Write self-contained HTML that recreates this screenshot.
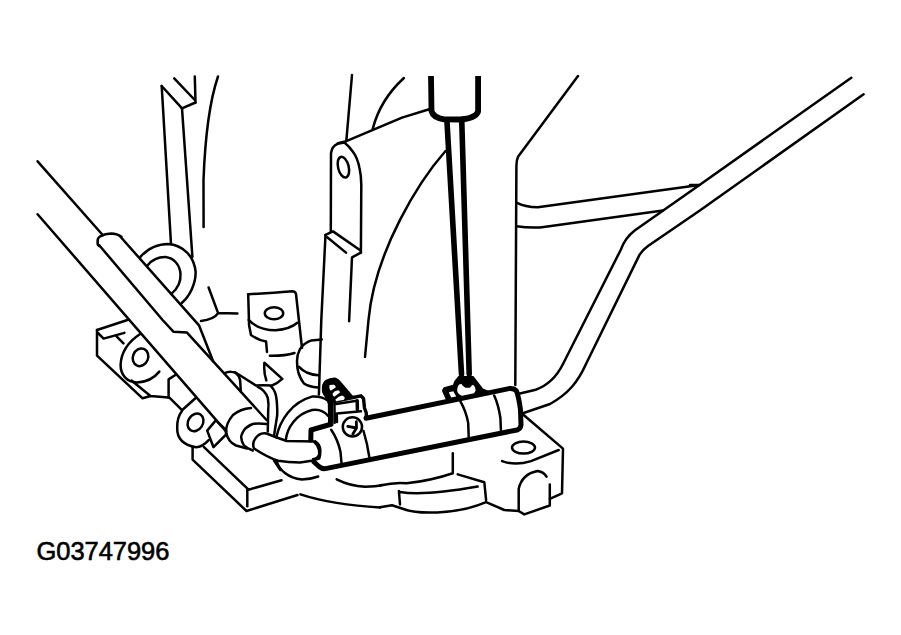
<!DOCTYPE html>
<html><head><meta charset="utf-8">
<style>
html,body{margin:0;padding:0;background:#fff;width:901px;height:635px;overflow:hidden}
svg{position:absolute;left:0;top:0}
.lbl{position:absolute;left:36.5px;top:536.8px;font-family:"Liberation Sans",sans-serif;font-size:25.5px;color:#000;letter-spacing:-0.05px;-webkit-text-stroke:0.6px #000}
</style></head><body>
<svg width="901" height="635" viewBox="0 0 901 635">
<g fill="none" stroke="#000" stroke-width="2.5" stroke-linecap="round" stroke-linejoin="round">
<!-- top-left post -->
<path d="M161.7,86 L171,244"/>
<path d="M161.7,86 L182,108.4 L195.5,102.5"/>
<path d="M182,108.4 L192.4,257"/>
<path d="M194.8,76.5 L195.5,102.5"/>
<path d="M174.2,78.4 L194.8,100"/>
<path d="M218,76.5 C210,100 205,140 203.5,180 L203.6,227"/>
<!-- left cable -->
<path d="M37.6,161.3 L102.7,235"/>
<path d="M37.6,214.2 L226,431.4"/>
<!-- boot -->
<path d="M120.7,237 L199,325.3 L213,361"/>
<path d="M99,245 L162.6,320 L173.6,331.8 L187,332.6 L266.5,420"/>
<path d="M121.5,236.8 Q117,233.6 111.3,233.5 Q105,233.7 100.2,236.3 Q97.6,238 97.6,241 L97.7,244.5 L99,246"/>
<!-- ring -->
<path d="M140.2,257.1 C148,248 156,244 168,243.9 C183,245 194,256 195.6,271.6 C196,283 190,296 181.7,303"/>
<path d="M147.7,265.3 C152,260 158,257 165.3,257.1 C174,258 180,265 180.5,274.1 C181,282 177,289 171.6,293.6"/>
<!-- Y shape -->
<path d="M208.6,287.5 L218.1,313.1 L237.4,313.5 M218.1,313.1 Q214,319.5 201,321"/>
<!-- flange left -->
<path d="M97,330 L128.2,319.7"/>
<path d="M97,330 L97,355.6 L142.6,398.3 L150.5,396 L168.6,397.6 M131.5,380.5 L150.5,396"/>
<path d="M98,333 L103.6,338.6 L124.4,332.9 M116.8,336.7 L123.5,343.3"/>
<path d="M140.5,333.8 C128,342 121,352 120.6,365 C120.5,375 127,382 137,382.5 C147,382 155,377 159.3,371.6"/>
<ellipse cx="140.5" cy="357.3" rx="7.6" ry="9" transform="rotate(22 140.5 357.3)"/>
<path d="M168.6,397.6 L168.6,379.4 L175.7,374.7 M169.4,397.6 L182,410.2 L195.4,398.3"/>
<!-- eye 2 -->
<path d="M182,411 C178,416 177,420 177.2,428 C177,438 183,445 196.1,447.2 C202,447 206,443 208.7,440.1"/>
<ellipse cx="195.5" cy="422.4" rx="7.4" ry="9.3" transform="rotate(32 195.5 422.4)"/>
<path d="M207.2,430.6 L215.8,420.4 L226,429.8 L226,434.6 L213.5,447.2 L207.2,430.6"/>
<!-- base block left -->
<path d="M192.6,447.2 L192.6,459.6 L246.5,511 L297.5,495"/>
<path d="M204,447.2 L248.5,489.7 L281.5,480.2"/>
<path d="M247.3,489.7 L247.3,506.2"/>
<path d="M300.4,494.4 Q333,505 380,507.4"/>
<path d="M336.7,479.3 Q350,486 365,486.8 Q376,486.5 382,485"/>
<path d="M276.5,460.5 C279,470 288,478 302,479.5 Q310,479.5 318.2,476.5"/>
<!-- mounting boss -->
<path d="M248.2,294.2 Q272,293 292,291.3 Q295.5,291.5 296,294 L302,348"/>
<path d="M248.2,294.4 L249.1,325.6 L251,335 Q258,340 266.1,341.6 L267,352"/>
<path d="M248.7,319.9 Q258,330 275.6,330.3 Q290,329 297.3,322.7"/>
<path d="M269.9,355.8 Q285,356 294.5,353"/>
<ellipse cx="274" cy="313.3" rx="9.2" ry="6"/>
<!-- upper bracket -->
<path d="M337.8,143.1 L346.3,141.2 L402,117.6 L430,109"/>
<path d="M352,75 L346.3,141.2"/>
<path d="M403.9,78 Q380,100 372.7,129"/>
<path d="M330.8,231.4 L331,153 Q332,146 337.6,143.8 L344.3,142.5 Q349,146 353.1,152 Q357.5,158 359.5,168 Q361.3,176 361.3,185 L360.9,252.6"/>
<ellipse cx="343.4" cy="167.2" rx="5.3" ry="10.6" transform="rotate(-14 343.4 167.2)"/>
<path d="M325.5,234.9 L333,231.4 L360.2,250.3 M327.2,237.3 L346,252.6 M360.9,252.6 L352,257.4 L349.1,321.3"/>
<path d="M325.5,234.9 L321.3,320 L318.9,394.5"/>
<path d="M445.5,151 C420,180 375,250 368.5,320 L365,357"/>
<!-- right casing -->
<path d="M578,76 L518.2,156.4 Q516.4,160 516.4,166 L515.3,385"/>
<path d="M516.5,202.6 Q525,207 537.8,207.3 L699.5,184.9 L690,185"/>
<path d="M516.5,226.2 Q528,228 540.1,227.4 L662.9,210.4"/>
<path d="M851.3,77.7 L699.5,184.9 L634.7,230.6 C629,235 624,241 620.8,249.7 L563,364 C557,376 549,385 535.7,389.7 L518.9,393.8"/>
<path d="M863.6,94.2 L699.5,210.8 L648,246 C644,249 641.5,251.5 639.6,254.6 L586,364 C578,382 568,394 550,404 L523.6,413"/>
<!-- base right -->
<path d="M522.8,414.3 L563,448.6 L562,493.3 L549.8,498.8"/>
<ellipse cx="523.5" cy="447.6" rx="11.5" ry="6"/>
<path d="M502.1,461.1 Q515,466 531,461.1 L558.7,450"/>
<path d="M518.7,511 L518.7,488.8 Q522,474 537.6,471 Q544,472 546.5,476.6 M549.8,484.4 L549.8,505.5 L524.3,514.4 L518.7,511"/>
<path d="M452.8,453.3 L452.8,473.3 Q430,481 406.6,483.3 Q395,482 380,485.5"/>
<path d="M457.7,474.4 L484.3,482.2 L486.1,500"/>
<path d="M398.9,491 L400,504.4 M400,492 Q424,496 477.7,486.6"/>
<path d="M380,507.3 L392,505.3 L402,508.5 C415,514 455,515.5 486.1,502.2 L504.3,510 L518.7,511"/>
<!-- cable bend into cylinder -->
<path d="M224.7,373.2 Q228,371.5 231.3,371.8 Q236,372 238.9,376.5 Q240.5,380 240.3,383 L240.8,391.2"/>
<path d="M235.1,372.3 L255.9,385.5 Q262,385 272,385.5 Q278,383 282.3,378.9 L264.4,362.8 Q263.5,372 266.3,380.3"/>
<path d="M257.8,386.9 Q265,390 267.8,398 Q269,405 268.2,410 L267.8,431.6"/>
<path d="M271,386.4 Q276,391 276.7,400.6 Q277.5,410 277.2,415.2 L274.1,435.3"/>
<path d="M251,408 Q240,409 233,415 Q226,423 226,432 Q228,442 236,445.5 L247,448.5"/>
<path d="M266.5,424 Q258,423 252.7,424 Q246,427 243.9,430.3 Q240.5,436 241.3,437.9 Q241.5,442 243.9,445.4 Q248,449 252.7,450.5"/>
<path d="M253.9,441 Q257,435 261.5,433.6 Q264,433 266.5,433.5 Q275,437 286.6,441 L315.5,441.5 Q320,444 320.3,450 Q320.3,457 313.3,460.5 L300,462.6 Q288,462.6 278,460.8 Q268,457.5 254,448.5 Q252.5,445 253.9,441"/>
<path d="M276.3,437.5 C280,420 292,402 312,396.6 Q322,396 328.3,401"/>
<path d="M285.8,440 C287,428 296,414 312,410 Q322,408.5 328.3,416"/>
<path d="M274,460.5 L280.4,470"/>
<!-- boss lower + circle -->
<path d="M321.8,339.4 L311.4,340.4 Q304,343 300,349 Q296.8,355 297,361.2 Q297,368 298.5,373 Q301,380 304,383.5 Q308,386.5 318,387.6"/>
<path d="M299.1,366.8 Q302,370 306.7,372.5 Q312,375 318.5,375.3"/>
<!-- bands -->
<path d="M331.2,429.8 Q338,440 340.5,452 L341.5,463"/>
<path d="M363.5,431 Q367.5,444 369.3,457.2"/>
<path d="M460.5,401.6 Q466,411 468.2,423 L468.7,437"/>
<path d="M494.2,395.5 Q498.5,405 500.4,418 L500.9,430"/>
<!-- screw -->
<circle cx="352.4" cy="426.9" r="9.6" stroke-width="2.5"/>
<path d="M356.3,421.6 L356.5,427.8 M347.8,426.4 L356.5,428 L352.8,434" stroke-width="2.8"/>
</g>
<g fill="none" stroke="#000" stroke-width="5" stroke-linecap="round" stroke-linejoin="round">
<!-- handle -->
<path d="M431,76 L431.5,111 Q433,117.5 444,119.3 L460,119.5 Q470,119 475,115.5 Q478,113 478.1,111 L478.1,76" stroke-width="5.8" stroke-linecap="butt"/>
<!-- shaft -->
<path d="M447,122 L461.5,374" stroke-width="5.6"/>
<path d="M461.8,122 L469.2,374" stroke-width="5.6"/>
</g>
<g fill="none" stroke="#000" stroke-width="5" stroke-linecap="round" stroke-linejoin="round">
<!-- cylinder -->
<path d="M366,418.2 L509,388.6 Q514,388 516.5,391 Q519,398 520.5,410 L521,425 Q520.5,429 517,430 L456,442.2 L325.5,468.6 Q322,469 319,466.5 L314,462"/>
<path d="M330,424.5 L311,430 L310.8,440"/>
</g>
<g fill="none" stroke="#000" stroke-width="3.4" stroke-linecap="round" stroke-linejoin="round">
<!-- clamp block -->
<path d="M330.5,399 L330.8,424" stroke-width="5.5"/>
<path d="M329,402.5 L353,397.5 L361,395.8 L363.5,398.5 L364.5,408 L366.3,413 L366.3,417"/>
<path d="M334.3,404.3 L356.7,400.7 M334.5,404.3 L334.7,422.7 M336.8,413.5 L361,411.3 M336.8,413.5 L337,422" stroke-width="2.4"/>
<path d="M357.2,400.7 L357.4,409.5" stroke-width="3.5"/>
</g>
<!-- cap contour -->
<path d="M314.2,441.2 Q318.5,445 319.5,450 Q320.2,455 318.9,458.2 L312.3,460" fill="none" stroke="#000" stroke-width="3.4" stroke-linejoin="round"/>
<!-- bolt -->
<path d="M322,392 Q321,383 325.5,380 Q330,377.3 335,377.5 Q338.5,378.3 342,383 L353.5,396.5 L356,397.5 L331,403 Q324.5,398.5 322,392 Z" fill="#000"/>
<path d="M329.2,385.5 Q331,384.3 334,384.8 Q336,385.8 335.8,387.3 L330.8,390.8 Q329.2,389.5 329.2,385.5 Z M332.5,393.5 Q334.5,390.7 338,390.3 Q340.3,391 340,392.5 L334.3,396.8 Q332.5,395.8 332.5,393.5 Z M335.3,399.8 Q338,396.3 342,395.5 Q344.5,396 344.8,398 L344,399.7 L336.2,401.2 Z" fill="#fff"/>
<!-- hook -->
<path d="M458.4,376 L454.2,381.2 L453,384.8 L444,387.2 Q441.5,390 442.2,391.5 L444.6,396.8 L446,400 L488.9,391 L483,388.4 L473.4,376 Z" fill="#000"/>
<path d="M457.2,391 Q457,386.5 459.5,384.2 L461.5,383.9 Q463,386.5 465.5,387.8 L470,387.8 Q471.5,385.5 473,384.8 Q475.5,386.5 475.7,390.5 L474,393.3 L462,395.8 Q458.3,394.8 457.2,391 Z" fill="#fff"/>
<path d="M448.8,392.2 L453.3,391.3 L456.2,396.6 L451.2,397.6 Z" fill="#fff"/>
</svg>
<div class="lbl">G03747996</div>
</body></html>
